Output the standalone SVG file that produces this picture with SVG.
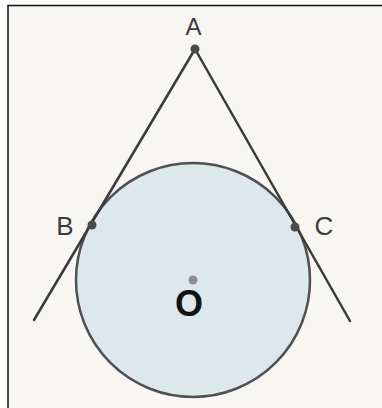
<svg xmlns="http://www.w3.org/2000/svg" width="382" height="408" viewBox="0 0 382 408">
  <style>
    .lbl { font-family: "Liberation Sans", Arial, sans-serif; fill: #3c3c3c; }
    .line { stroke: #3a3a3a; stroke-width: 2.5; stroke-linecap: round; fill: none; }
    .pt { fill: #4a4a4a; }
  </style>
  <rect x="0" y="0" width="382" height="408" fill="#ffffff"/>
  <rect x="8" y="5.5" width="374" height="402.5" fill="#f8f6f3"/>
  <path d="M8 408 V5.5 H382" stroke="#111" stroke-width="1.5" fill="none"/>

  <g id="circle">
    <circle cx="193" cy="280" r="117" fill="#dce8ec" stroke="#505050" stroke-width="2.5"/>
  </g>

  <g id="connectors">
    <line class="line" x1="195" y1="49" x2="34" y2="320"/>
    <line class="line" x1="195" y1="49" x2="350" y2="321"/>
  </g>

  <g id="A">
    <circle class="pt" cx="195" cy="49" r="4.5"/>
    <text class="lbl" x="193.5" y="35" font-size="24" text-anchor="middle">A</text>
  </g>
  <g id="B">
    <circle class="pt" cx="92" cy="225" r="4.5"/>
    <text class="lbl" x="65" y="235" font-size="26" text-anchor="middle">B</text>
  </g>
  <g id="C">
    <circle class="pt" cx="295" cy="227" r="4.5"/>
    <text class="lbl" x="324" y="235" font-size="26" text-anchor="middle">C</text>
  </g>
  <g id="O">
    <circle cx="193" cy="280" r="4.5" fill="#8c8c8c"/>
    <text x="189" y="316" font-size="36" font-weight="bold" text-anchor="middle" font-family="Liberation Sans, Arial, sans-serif" fill="#111">O</text>
  </g>
</svg>
